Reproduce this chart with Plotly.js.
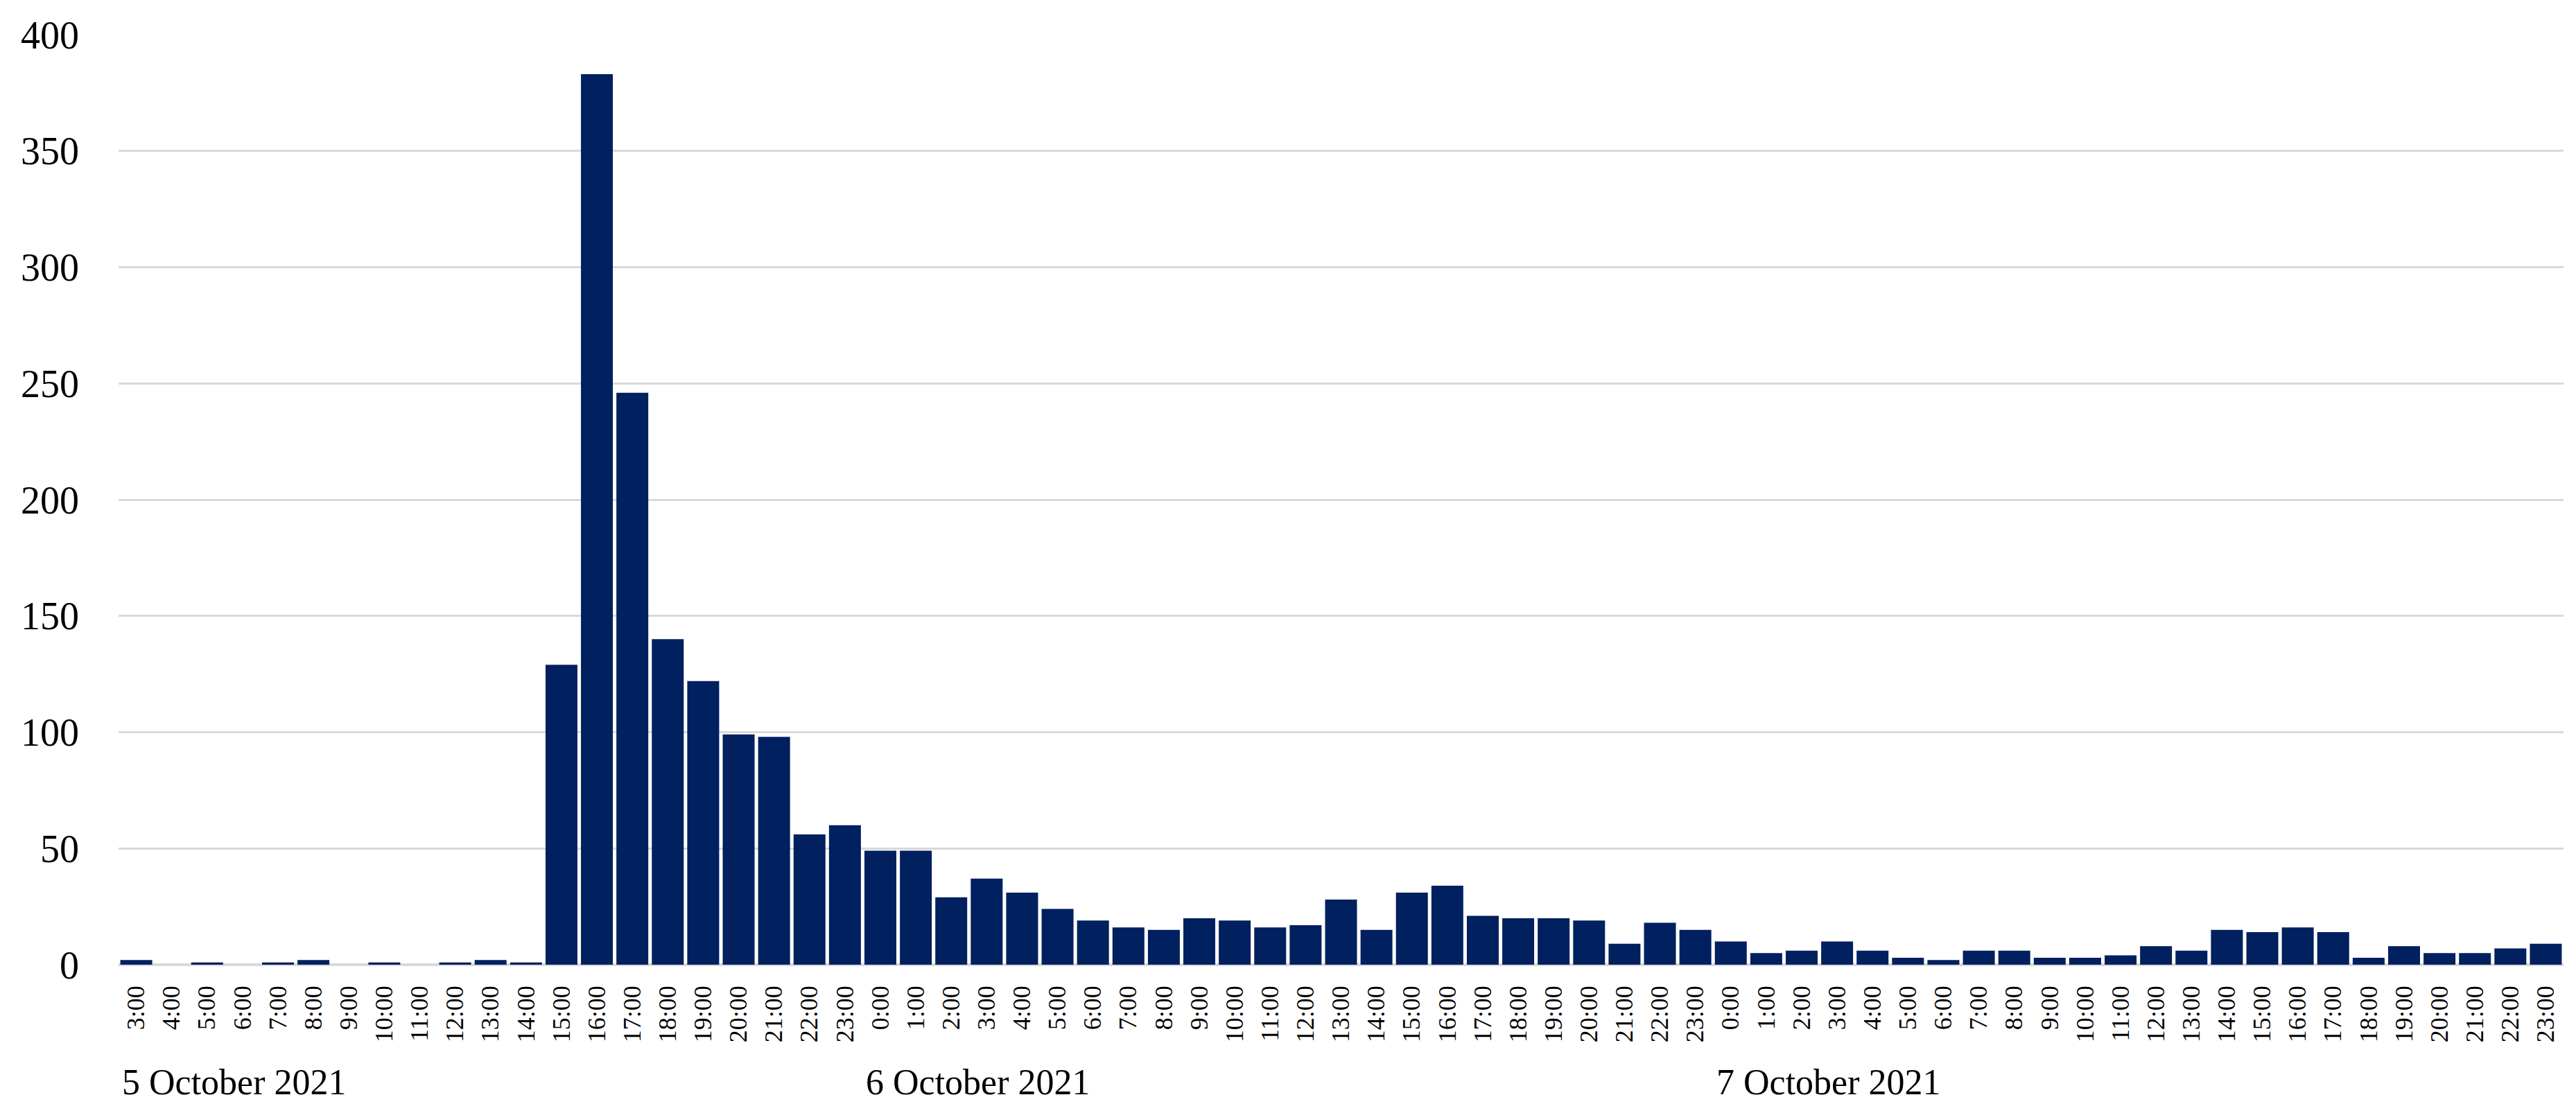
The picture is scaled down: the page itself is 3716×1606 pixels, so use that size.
<!DOCTYPE html>
<html>
<head>
<meta charset="utf-8">
<script src="https://cdn.plot.ly/plotly-3.0.1.min.js"></script>
<style>
html, body { margin: 0; padding: 0; background: #ffffff; }
#chart { width: 3716px; height: 1606px; }
</style>
</head>
<body>
<div id="chart"></div>
<script>
// Day labels
const dayLabels = ['5 October 2021', '6 October 2021', '7 October 2021'];

// Hour categories per day
const day1Hours = ['3:00','4:00','5:00','6:00','7:00','8:00','9:00','10:00','11:00','12:00','13:00','14:00','15:00','16:00','17:00','18:00','19:00','20:00','21:00','22:00','23:00'];
const day2Hours = ['0:00','1:00','2:00','3:00','4:00','5:00','6:00','7:00','8:00','9:00','10:00','11:00','12:00','13:00','14:00','15:00','16:00','17:00','18:00','19:00','20:00','21:00','22:00','23:00'];
const day3Hours = ['0:00','1:00','2:00','3:00','4:00','5:00','6:00','7:00','8:00','9:00','10:00','11:00','12:00','13:00','14:00','15:00','16:00','17:00','18:00','19:00','20:00','21:00','22:00','23:00'];

// Counts per hour
const day1Values = [2,0,1,0,1,2,0,1,0,1,2,1,129,383,246,140,122,99,98,56,60];
const day2Values = [49,49,29,37,31,24,19,16,15,20,19,16,17,28,15,31,34,21,20,20,19,9,18,15];
const day3Values = [10,5,6,10,6,3,2,6,6,3,3,4,8,6,15,14,16,14,3,8,5,5,7,9];

// Y tick values
const yTicks = [0,50,100,150,200,250,300,350,400];

const hourLabels = day1Hours.concat(day2Hours, day3Hours);
const values = day1Values.concat(day2Values, day3Values);
const xIdx = hourLabels.map((_, i) => i);
const dayStarts = [0, day1Hours.length, day1Hours.length + day2Hours.length];

const FONT = '"Liberation Serif", "Times New Roman", serif';

const trace = {
  type: 'bar',
  x: xIdx,
  y: values,
  marker: { color: '#002060', line: { width: 0 } },
  hoverinfo: 'y'
};

const plotH = 1606 - 50 - 214;
const annotations = dayLabels.map((t, k) => ({
  text: t,
  xref: 'x', yref: 'paper',
  x: dayStarts[k] - 0.45,
  y: -(1561 - 1392) / plotH,
  xanchor: 'left', yanchor: 'middle',
  showarrow: false,
  font: { family: FONT, size: 52, color: '#000000' }
}));

const layout = {
  width: 3716, height: 1606,
  margin: { l: 171, r: 18, t: 50, b: 214, pad: 0 },
  paper_bgcolor: '#ffffff',
  plot_bgcolor: '#ffffff',
  showlegend: false,
  bargap: 0.1,
  font: { family: FONT, color: '#000000' },
  xaxis: {
    type: 'linear',
    range: [-0.5, hourLabels.length - 0.5],
    tickmode: 'array',
    tickvals: xIdx,
    ticktext: hourLabels,
    tickangle: -90,
    ticks: '',
    showgrid: false,
    zeroline: false,
    showline: false,
    ticklabelstandoff: 22,
    tickfont: { family: FONT, size: 36, color: '#000000' },
    fixedrange: true
  },
  yaxis: {
    range: [0, 400],
    tickmode: 'array',
    tickvals: yTicks,
    ticktext: yTicks.map(String),
    ticks: '',
    showgrid: true,
    gridcolor: '#d9d9d9',
    gridwidth: 3,
    zeroline: true,
    zerolinecolor: '#d9d9d9',
    zerolinewidth: 4,
    showline: false,
    ticklabelstandoff: 56,
    tickfont: { family: FONT, size: 56, color: '#000000' },
    fixedrange: true
  },
  annotations: annotations
};

Plotly.newPlot('chart', [trace], layout, { displayModeBar: false, staticPlot: true });
</script>
</body>
</html>
